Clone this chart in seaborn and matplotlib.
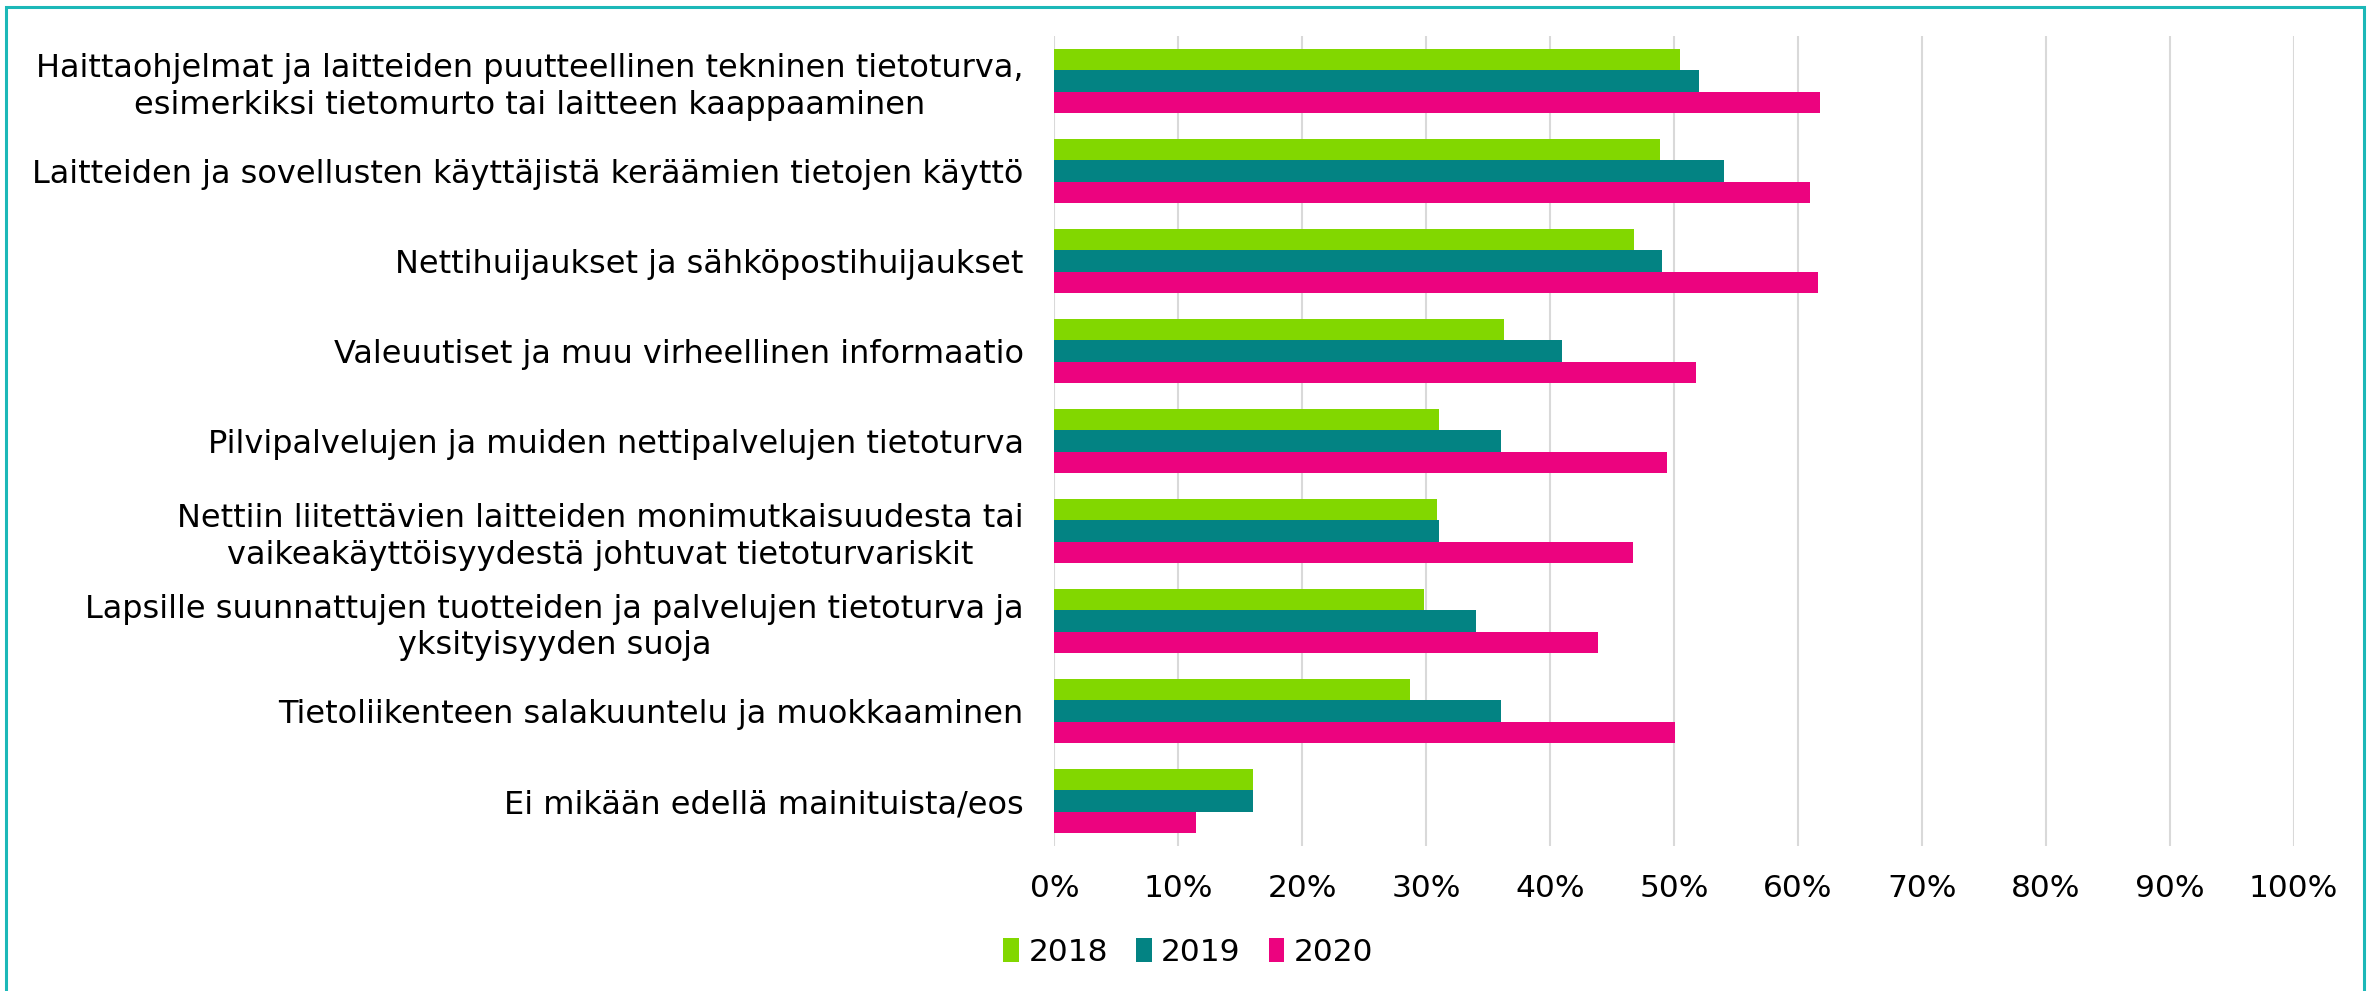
import numpy as np
import pandas as pd
import matplotlib.pyplot as plt
import seaborn as sns
from matplotlib.patches import Rectangle

# Categories (top to bottom) and values in percent
categories = [
    'Haittaohjelmat ja laitteiden puutteellinen tekninen tietoturva,\nesimerkiksi tietomurto tai laitteen kaappaaminen',
    'Laitteiden ja sovellusten käyttäjistä keräämien tietojen käyttö',
    'Nettihuijaukset ja sähköpostihuijaukset',
    'Valeuutiset ja muu virheellinen informaatio',
    'Pilvipalvelujen ja muiden nettipalvelujen tietoturva',
    'Nettiin liitettävien laitteiden monimutkaisuudesta tai\nvaikeakäyttöisyydestä johtuvat tietoturvariskit',
    'Lapsille suunnattujen tuotteiden ja palvelujen tietoturva ja\nyksityisyyden suoja',
    'Tietoliikenteen salakuuntelu ja muokkaaminen',
    'Ei mikään edellä mainituista/eos',
]
years = ['2018', '2019', '2020']
v2018 = [50.5, 48.9, 46.8, 36.3, 31.0, 30.9, 29.8, 28.7, 16.0]
v2019 = [52.0, 54.0, 49.0, 41.0, 36.0, 31.0, 34.0, 36.0, 16.0]
v2020 = [61.8, 61.0, 61.6, 51.8, 49.4, 46.7, 43.9, 50.1, 11.4]
colors = ['#82D700', '#038383', '#EC037F']
xticks = list(range(0, 101, 10))

df = pd.DataFrame({
    'category': categories * 3,
    'year': np.repeat(years, len(categories)),
    'value': v2018 + v2019 + v2020,
})

sns.set_style('white')
plt.rcParams['font.family'] = ['DejaVu Sans']
plt.rcParams['text.color'] = 'black'
plt.rcParams['xtick.color'] = 'black'
plt.rcParams['ytick.color'] = 'black'

fig = plt.figure(figsize=(23.72, 9.91), dpi=100)
ax = fig.add_axes([0.4445, 0.1463, 0.5225, 0.8174])

sns.barplot(data=df, y='category', x='value', hue='year', orient='h',
            palette=colors, saturation=1, width=0.71, edgecolor='none', ax=ax)

ax.set_xlim(0, 100)
ax.set_xticks(xticks)
ax.set_xticklabels([f'{t}%' for t in xticks], fontsize=22.5)
ax.tick_params(axis='x', length=0, pad=20)
ax.tick_params(axis='y', length=0, pad=22, labelsize=23)
for lab in ax.get_yticklabels():
    lab.set_multialignment('center')
    lab.set_linespacing(1.22)

ax.xaxis.grid(True, color='#D9D9D9', linewidth=1.5)
ax.set_axisbelow(True)
for s in ax.spines.values():
    s.set_visible(False)
ax.set_xlabel('')
ax.set_ylabel('')

ax.legend(loc='center', bbox_to_anchor=(0.501, 0.039), bbox_transform=fig.transFigure,
          ncol=3, frameon=False, fontsize=22.5, handlelength=0.5, handleheight=0.8,
          handletextpad=0.3, columnspacing=0.9)

# teal frame around the chart
fig.add_artist(Rectangle((6 / 2372, -0.05), (2364 - 6) / 2372, 1.05 - 7 / 991,
                         transform=fig.transFigure, fill=False,
                         edgecolor='#1CB8B8', linewidth=2.2))

fig.savefig('out.png', dpi=100)
